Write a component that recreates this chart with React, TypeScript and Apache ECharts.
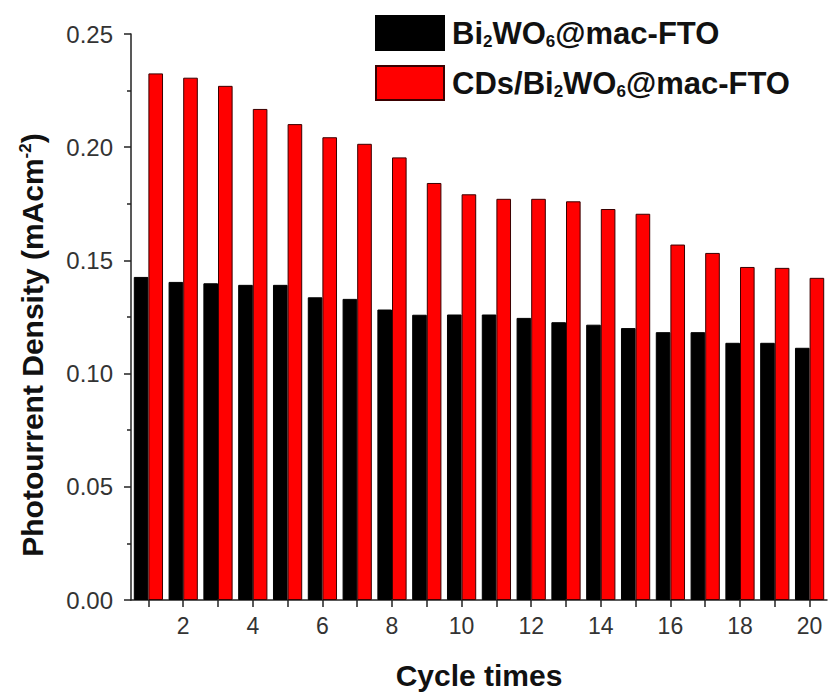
import React, { useEffect, useRef } from "react";
import * as echarts from "echarts";

const categories = ["1","2","3","4","5","6","7","8","9","10","11","12","13","14","15","16","17","18","19","20"];
const seriesNames = ["Bi2WO6@mac-FTO", "CDs/Bi2WO6@mac-FTO"];
const bi2wo6Values = [0.1427, 0.1405, 0.1399, 0.1392, 0.1392, 0.1337, 0.1330, 0.1283, 0.1260, 0.1261, 0.1261, 0.1246, 0.1227, 0.1216, 0.1201, 0.1183, 0.1183, 0.1136, 0.1136, 0.1114];
const cdsValues = [0.2326, 0.2307, 0.2271, 0.2169, 0.2102, 0.2044, 0.2015, 0.1955, 0.1842, 0.1792, 0.1772, 0.1772, 0.1761, 0.1727, 0.1706, 0.1570, 0.1533, 0.1471, 0.1467, 0.1423];
const yTicks = { min: 0, max: 0.25, interval: 0.05 };

const FONT = "'Liberation Sans', Arial, Helvetica, sans-serif";

function legendRich(name: string): string {
  return name
    .replace("Bi2WO6", "{n|Bi}{s|2}{n|WO}{s|6}")
    .replace(/^(CDs\/)/, "{n|CDs/}")
    .replace(/(@mac-FTO)$/, "{n|@mac-FTO}");
}

export default function App() {
  const ref = useRef<HTMLDivElement>(null);
  useEffect(() => {
    document.body.style.margin = "0";
    if (!ref.current) return;
    const chart = echarts.init(ref.current, undefined, { renderer: "svg" });
    chart.setOption({
      animation: false,
      backgroundColor: "#ffffff",
      textStyle: { fontFamily: FONT },
      grid: { left: 131, right: 1, top: 34, bottom: 93, containLabel: false },
      legend: {
        left: 375,
        top: 15,
        padding: 0,
        orient: "vertical",
        itemWidth: 68,
        itemHeight: 34,
        itemGap: 14,
        icon: "rect",
        selectedMode: false,
        data: seriesNames,
        formatter: (name: string) => legendRich(name),
        textStyle: {
          padding: [0, 0, 0, 3],
          rich: {
            n: { fontFamily: FONT, fontSize: 31, fontWeight: "bold", color: "#111", lineHeight: 34 },
            s: { fontFamily: FONT, fontSize: 17, fontWeight: "bold", color: "#111", lineHeight: 10, verticalAlign: "bottom" },
          },
        },
      },
      xAxis: {
        type: "category",
        data: categories,
        boundaryGap: true,
        name: "Cycle times",
        nameLocation: "middle",
        nameGap: 60,
        nameTextStyle: { fontFamily: FONT, fontSize: 30, fontWeight: "bold", color: "#111" },
        axisLine: { show: true, lineStyle: { color: "#222", width: 1.5 } },
        axisTick: { show: true, alignWithLabel: true, interval: 0, length: 7, lineStyle: { color: "#222", width: 1.5 } },
        axisLabel: {
          interval: (index: number) => index % 2 === 1,
          margin: 14,
          fontFamily: FONT,
          fontSize: 23,
          color: "#333",
        },
        splitLine: { show: false },
      },
      yAxis: {
        type: "value",
        min: yTicks.min,
        max: yTicks.max,
        interval: yTicks.interval,
        name: "Photourrent Density (mAcm{sup|-2})",
        nameLocation: "middle",
        nameRotate: 90,
        nameGap: 84,
        nameTextStyle: {
          fontFamily: FONT,
          fontSize: 30,
          fontWeight: "bold",
          color: "#111",
          padding: [0, 56, 0, 0],
          rich: {
            sup: { fontFamily: FONT, fontSize: 17, fontWeight: "bold", color: "#111", verticalAlign: "top", lineHeight: 14 },
          },
        },
        axisLine: { show: true, lineStyle: { color: "#222", width: 1.5 } },
        axisTick: { show: true, length: 7, lineStyle: { color: "#222", width: 1.5 } },
        minorTick: { show: true, splitNumber: 2, length: 4, lineStyle: { color: "#222", width: 1.5 } },
        axisLabel: {
          margin: 18,
          fontFamily: FONT,
          fontSize: 24,
          color: "#333",
          formatter: (v: number) => v.toFixed(2),
        },
        splitLine: { show: false },
      },
      series: [
        {
          name: seriesNames[0],
          type: "bar",
          data: bi2wo6Values,
          barGap: "0%",
          barCategoryGap: "16%",
          itemStyle: { color: "#000000", borderColor: "#000000", borderWidth: 1 },
        },
        {
          name: seriesNames[1],
          type: "bar",
          data: cdsValues,
          barGap: "0%",
          barCategoryGap: "16%",
          itemStyle: { color: "#ff0000", borderColor: "#3a0000", borderWidth: 1 },
        },
      ],
    });
    return () => chart.dispose();
  }, []);
  return <div ref={ref} style={{ width: 828, height: 695 }} />;
}
